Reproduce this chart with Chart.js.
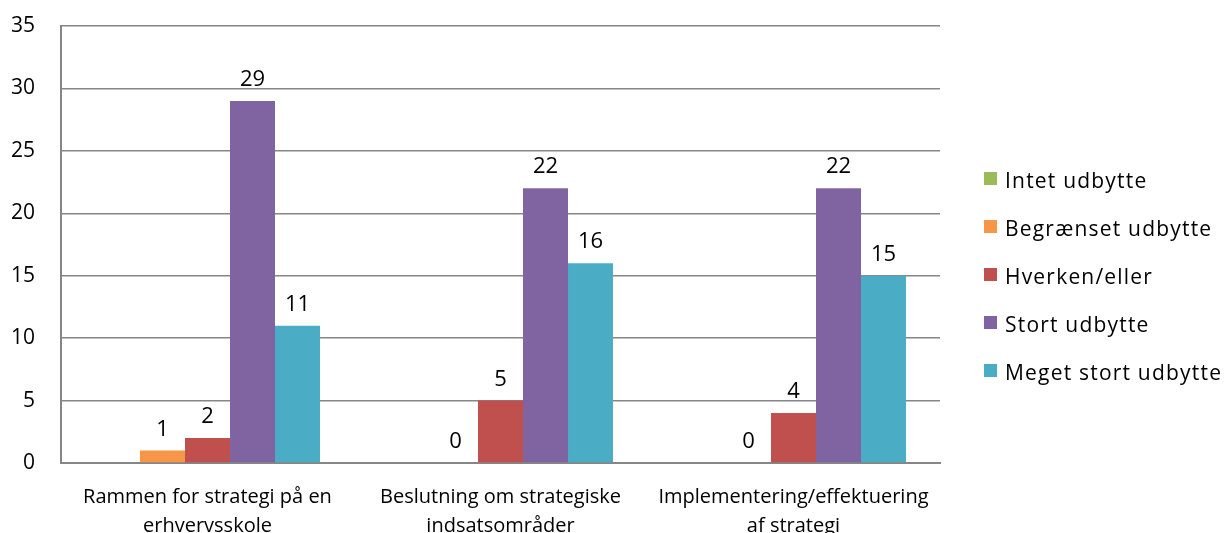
<!DOCTYPE html>
<html>
<head>
<meta charset="utf-8">
<script src="https://cdn.jsdelivr.net/npm/chart.js@4"></script>
<style>
  html, body { margin: 0; padding: 0; background: #fff; }
  #wrap { width: 1228px; height: 533px; }
</style>
</head>
<body>
<div id="wrap"><canvas id="myChart"></canvas></div>
<script>
const categories = [
  ['Rammen for strategi på en', 'erhvervsskole'],
  ['Beslutning om strategiske', 'indsatsområder'],
  ['Implementering/effektuering', 'af strategi']
];
const seriesNames = ['Intet udbytte', 'Begrænset udbytte', 'Hverken/eller', 'Stort udbytte', 'Meget stort udbytte'];
const intet = [null, null, null];
const begraenset = [1, 0, 0];
const hverken = [2, 5, 4];
const stort = [29, 22, 22];
const megetStort = [11, 16, 15];
const yTicks = [0, 5, 10, 15, 20, 25, 30, 35];

const colors = ['#9BBB59', '#F79646', '#C0504D', '#8064A2', '#4BACC6'];
const fontFamily = '"Open Sans", Lato, sans-serif';
const gridColor = '#868686';

// value labels above each bar
const valueLabels = {
  id: 'valueLabels',
  afterDatasetsDraw(chart) {
    const c = chart.ctx;
    c.save();
    c.font = '22px ' + fontFamily;
    c.fillStyle = '#000';
    c.textAlign = 'center';
    c.textBaseline = 'alphabetic';
    chart.data.datasets.forEach((ds, i) => {
      const meta = chart.getDatasetMeta(i);
      meta.data.forEach((bar, j) => {
        const v = ds.data[j];
        if (v === null || v === undefined) return;
        c.fillText(String(v), bar.x, bar.y - 15);
      });
    });
    c.restore();
  }
};

// legend on the right, drawn by hand for exact placement
const sideLegend = {
  id: 'sideLegend',
  afterDraw(chart) {
    const c = chart.ctx;
    c.save();
    c.font = '21px ' + fontFamily;
    c.textBaseline = 'alphabetic';
    c.textAlign = 'left';
    if ('letterSpacing' in c) c.letterSpacing = '1.2px';
    const x = 984, y0 = 178, step = 48;
    chart.data.datasets.forEach((ds, i) => {
      const y = y0 + i * step;
      c.fillStyle = ds.backgroundColor;
      c.fillRect(x, y - 6, 13, 13);
      c.fillStyle = '#000';
      c.fillText(ds.label, x + 21, y + 10);
    });
    c.restore();
  }
};

const datasets = [intet, begraenset, hverken, stort, megetStort].map((d, i) => ({
  label: seriesNames[i],
  data: d,
  backgroundColor: colors[i],
  borderWidth: 0,
  categoryPercentage: 0.768,
  barPercentage: 1.0
}));

new Chart(document.getElementById('myChart'), {
  type: 'bar',
  data: { labels: categories, datasets: datasets },
  options: {
    responsive: true,
    maintainAspectRatio: false,
    animation: false,
    layout: { padding: { top: 26, right: 288, bottom: 0, left: 0 } },
    plugins: {
      legend: { display: false },
      tooltip: { enabled: false }
    },
    scales: {
      x: {
        grid: { display: false, drawTicks: false },
        border: { display: true, color: gridColor, width: 2 },
        ticks: {
          color: '#000',
          font: { family: fontFamily, size: 20, lineHeight: 1.45 },
          padding: 20,
          maxRotation: 0,
          autoSkip: false
        },
        afterFit(scale) { scale.height = 70; }
      },
      y: {
        min: 0,
        max: 35,
        afterBuildTicks(scale) { scale.ticks = yTicks.map(v => ({ value: v })); },
        grid: { color: gridColor, lineWidth: 1.5, drawTicks: false },
        border: { display: true, color: gridColor, width: 2 },
        ticks: {
          color: '#000',
          font: { family: fontFamily, size: 21 },
          padding: 26
        },
        afterFit(scale) {
          scale.width = 61;
          scale.paddingTop = 0;
          scale.paddingBottom = 0;
        }
      }
    }
  },
  plugins: [valueLabels, sideLegend]
});
</script>
</body>
</html>
